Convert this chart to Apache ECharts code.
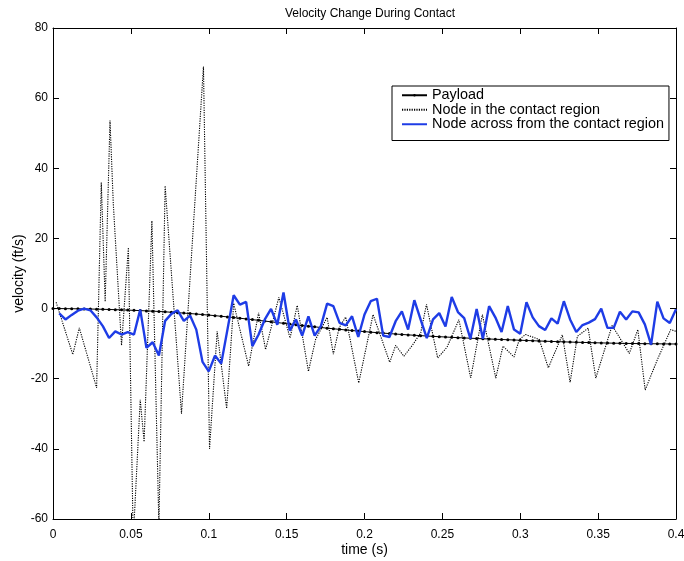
<!DOCTYPE html>
<html>
<head>
<meta charset="utf-8">
<script src="https://cdn.jsdelivr.net/npm/echarts@6/dist/echarts.min.js"></script>
<style>
  html, body { margin: 0; padding: 0; background: #fff; }
  #chart { width: 684px; height: 561px; }
</style>
</head>
<body>
<div id="chart"></div>
<script>
// Time samples (s) shared by the payload and the far-side node
var payloadTime = [];
for (var k = 0; k <= 100; k++) payloadTime.push(+(k * 0.004).toFixed(3));

// Payload velocity (ft/s), one value per 4 ms sample starting at t = 0
var payloadVel = [
  0, 0, -0.02, -0.04, -0.07, -0.1, -0.13, -0.17, -0.21, -0.26,
  -0.31, -0.37, -0.44, -0.51, -0.58, -0.66, -0.74, -0.83, -0.93, -1.04,
  -1.16, -1.29, -1.42, -1.56, -1.71, -1.86, -2.02, -2.19, -2.37, -2.56,
  -2.75, -2.95, -3.15, -3.36, -3.57, -3.78, -3.99, -4.2, -4.41, -4.62,
  -4.82, -5.02, -5.21, -5.4, -5.58, -5.76, -5.93, -6.1, -6.26, -6.42,
  -6.57, -6.72, -6.86, -7.0, -7.13, -7.26, -7.38, -7.5, -7.61, -7.72,
  -7.82, -7.92, -8.02, -8.11, -8.2, -8.29, -8.37, -8.45, -8.53, -8.61,
  -8.68, -8.75, -8.82, -8.89, -8.96, -9.03, -9.1, -9.17, -9.24, -9.31,
  -9.37, -9.43, -9.49, -9.55, -9.6, -9.65, -9.7, -9.75, -9.79, -9.83,
  -9.87, -9.9, -9.93, -9.96, -9.99, -10.01, -10.03, -10.05, -10.07, -10.09,
  -10.1
];

// Node across from the contact region: samples from t = 0.004 s to 0.4 s
var acrossTime = payloadTime.slice(1);
var acrossVel = [
  -1.4, -3.1, -1.8, -0.6, 0, -0.5, -2.5, -5, -8.4, -6.5,
  -7.4, -6.7, -7.4, -0.3, -11.2, -9.6, -13.4, -3.5, -1.5, -0.5,
  -3.5, -2, -6, -15.2, -17.9, -13.4, -15.7, -6, 3.8, 1.1,
  1.9, -10.7, -7.4, -3.1, -0.1, -4.6, 4.6, -6.3, -3.1, -7.7,
  -2.2, -7.7, -5, 1.4, 0.7, -4.1, -4.8, -2.2, -8.1, -1.7,
  2.1, 2.8, -7.7, -8.1, -3.6, -0.8, -6, 2.4, -3.1, -8.4,
  -3.1, -1.3, -5.1, 3.3, -1, -2.7, -8.6, -0.1, -8.6, 0.7,
  -2.5, -6.7, 0.7, -6, -7.2, 1.8, -2.5, -5, -6.1, -2.8,
  -4.3, 2.1, -3.1, -6.7, -4.7, -4, -3, 0, -5.5, -5.5,
  -0.9, -3.1, -0.8, -1.1, -4.5, -10.3, 2, -2.8, -4.1, -0.2
];

// Node in the contact region: turning points of the dotted trace
var contactTime = [
  0.002, 0.0127, 0.0169, 0.028, 0.031, 0.0335, 0.0366, 0.0387, 0.044, 0.0484,
  0.0515, 0.056, 0.0585, 0.0635, 0.068, 0.072, 0.0825, 0.0966, 0.1005, 0.1054,
  0.1115, 0.116, 0.1256, 0.132, 0.1365, 0.145, 0.1522, 0.1568, 0.164, 0.1686,
  0.176, 0.18, 0.1837, 0.1879, 0.1963, 0.2055, 0.2162, 0.22, 0.2253, 0.231,
  0.2361, 0.2398, 0.247, 0.253, 0.2606, 0.2682, 0.2757, 0.2843, 0.2889, 0.296,
  0.2994, 0.3034, 0.3122, 0.318, 0.327, 0.332, 0.3367, 0.3436, 0.3485, 0.359,
  0.37, 0.3755, 0.3802, 0.3881, 0.3966, 0.4
];
var contactVel = [
  1.8, -13.1, -5.5, -22.6, 36, 2, 53.6, 30, -10.5, 17.4,
  -66, -26, -38, 25, -62, 35, -30, 69, -40, -6.5,
  -28.5, 1.5, -16.4, -1.2, -11.7, 3.2, -8.4, 0.9, -17.9, -8.8,
  -2.5, -13, -5.5, -2.4, -21.2, -1.7, -15.3, -10.5, -13.6, -10.3,
  -6.9, 1.2, -14.1, -11, -3.2, -19.8, -1.7, -19.8, -10.7, -13.8,
  -8.8, -7.4, -8.8, -16.9, -7.5, -21, -7.9, -5.6, -19.8, -4.8,
  -12.8, -6, -23.2, -14.5, -6, -6.5
];

var xTicks = { min: 0, max: 0.4, step: 0.05 };
var yTicks = { min: -60, max: 80, step: 20 };

function pairs(t, v) {
  var out = [];
  for (var i = 0; i < v.length; i++) out.push([t[i], v[i]]);
  return out;
}

var FONT = 'Liberation Sans, Arial, sans-serif';
var BLUE = '#1e3ce6';
var DOTS = [1.2, 1.2];
var chart = echarts.init(document.getElementById('chart'), null, { renderer: 'canvas' });

var axisLine = { show: true, onZero: false, lineStyle: { color: '#000', width: 1 } };
var tickIn = { show: true, inside: true, length: 6, lineStyle: { color: '#000', width: 1 } };
var nameStyle = { fontFamily: FONT, fontSize: 14, color: '#000' };

chart.setOption({
  backgroundColor: '#fff',
  animation: false,
  title: {
    text: 'Velocity Change During Contact',
    left: 365, top: 3, textAlign: 'center',
    textStyle: { fontFamily: FONT, fontSize: 12, fontWeight: 'normal', color: '#000' }
  },
  grid: { left: 53, right: 8, top: 28, bottom: 42, containLabel: false, outerBoundsMode: 'none' },
  legend: {
    orient: 'vertical',
    left: 392, top: 86,
    backgroundColor: '#fff',
    borderColor: '#000', borderWidth: 1, borderRadius: 0,
    padding: [2, 5, 9, 9],
    itemWidth: 25, itemHeight: 3, itemGap: 0,
    textStyle: { fontFamily: FONT, fontSize: 14.4, color: '#000', lineHeight: 14.5 },
    data: [
      { name: 'Payload' },
      { name: 'Node in the contact region', itemStyle: { opacity: 0 } },
      { name: 'Node across from the contact region', itemStyle: { opacity: 0 } }
    ]
  },
  xAxis: [{
    type: 'value', min: xTicks.min, max: xTicks.max, interval: xTicks.step,
    name: 'time (s)', nameLocation: 'middle', nameGap: 24, nameMoveOverlap: false,
    nameTextStyle: nameStyle,
    axisLine: axisLine, axisTick: tickIn, splitLine: { show: false },
    axisLabel: { fontFamily: FONT, fontSize: 12, color: '#000', margin: 10,
      formatter: function (v) { return String(+v.toFixed(2)); } }
  }, {
    type: 'value', position: 'top', min: xTicks.min, max: xTicks.max, interval: xTicks.step,
    axisLine: axisLine, axisTick: tickIn, axisLabel: { show: false }, splitLine: { show: false }
  }],
  yAxis: [{
    type: 'value', min: yTicks.min, max: yTicks.max, interval: yTicks.step,
    name: 'velocity (ft/s)', nameLocation: 'middle', nameGap: 27, nameRotate: 90,
    nameMoveOverlap: false,
    nameTextStyle: nameStyle,
    axisLine: axisLine, axisTick: tickIn, splitLine: { show: false },
    axisLabel: { fontFamily: FONT, fontSize: 12, color: '#000', margin: 5 }
  }, {
    type: 'value', position: 'right', min: yTicks.min, max: yTicks.max, interval: yTicks.step,
    axisLine: axisLine, axisTick: tickIn, axisLabel: { show: false }, splitLine: { show: false }
  }],
  series: [{
    name: 'Payload', type: 'line',
    data: pairs(payloadTime, payloadVel),
    symbol: 'circle', symbolSize: 3, showSymbol: true,
    itemStyle: { color: '#000' },
    lineStyle: { color: '#000', width: 1 },
    z: 3
  }, {
    name: 'Node in the contact region', type: 'line',
    data: pairs(contactTime, contactVel),
    symbol: 'none',
    itemStyle: { color: '#000' },
    lineStyle: { color: '#000', width: 1.1, type: DOTS },
    z: 2
  }, {
    name: 'Node across from the contact region', type: 'line',
    data: pairs(acrossTime, acrossVel),
    symbol: 'none',
    itemStyle: { color: BLUE },
    lineStyle: { color: BLUE, width: 2.4 },
    z: 4
  }]
});
</script>
</body>
</html>
